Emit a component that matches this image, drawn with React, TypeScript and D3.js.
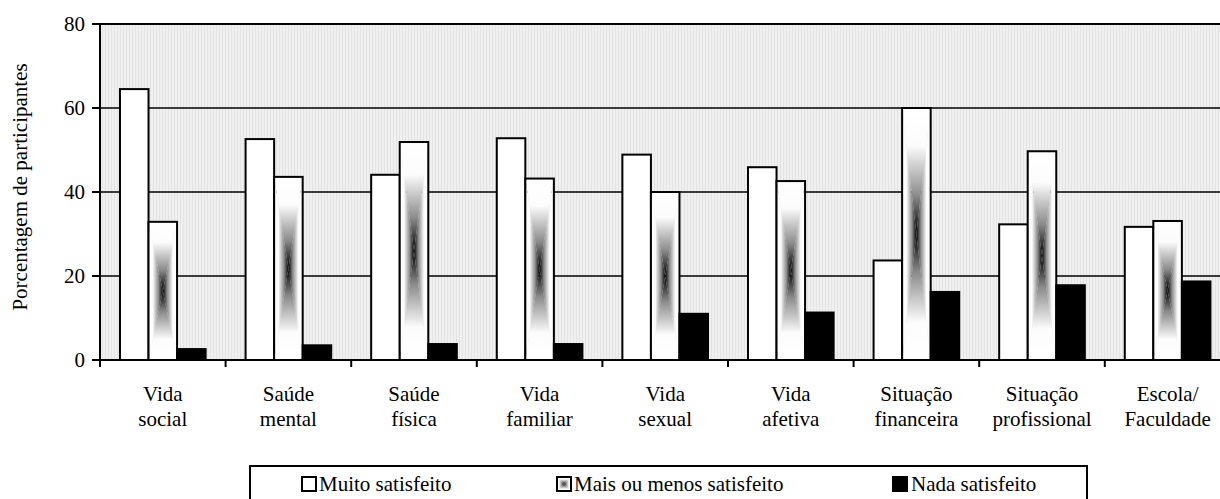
import React from "react";
import * as d3 from "d3";

const categories = [
  ["Vida", "social"],
  ["Saúde", "mental"],
  ["Saúde", "física"],
  ["Vida", "familiar"],
  ["Vida", "sexual"],
  ["Vida", "afetiva"],
  ["Situação", "financeira"],
  ["Situação", "profissional"],
  ["Escola/", "Faculdade"],
];
const seriesNames = ["Muito satisfeito", "Mais ou menos satisfeito", "Nada satisfeito"];
const muito = [64.5, 52.6, 44.1, 52.8, 48.9, 45.9, 23.7, 32.3, 31.7];
const mais = [32.9, 43.6, 51.9, 43.2, 40.0, 42.6, 60.0, 49.7, 33.1];
const nada = [2.6, 3.5, 3.8, 3.8, 11.0, 11.3, 16.2, 17.8, 18.7];
const yTicks = [0, 20, 40, 60, 80];
const yTitle = "Porcentagem de participantes";

const W = 1220, H = 499;
const left = 100, top = 24, bottom = 360;
const catStep = 125.6;
const FONT = "'Liberation Serif', 'DejaVu Serif', 'Noto Serif', serif";

export default function App() {
  const keys = categories.map((c) => c.join(" "));
  const x0 = d3.scaleBand<string>().domain(keys).range([left, left + catStep * keys.length]).paddingInner(0).paddingOuter(0);
  const x1 = d3.scaleBand<string>().domain(seriesNames).range([0, x0.bandwidth()]).paddingInner(0).paddingOuter(0.7);
  const y = d3.scaleLinear().domain([0, 80]).range([bottom, top]);
  const values = [muito, mais, nada];
  const bw = x1.bandwidth();

  const gradBar = (x: number, yTop: number, w: number, h: number, k: string) => {
    const cx = x + w / 2, cy = yTop + h / 2;
    const pts = (arr: number[][]) => arr.map((p) => p.join(",")).join(" ");
    return (
      <g key={k}>
        <polygon points={pts([[x, yTop], [x + w, yTop], [cx, cy]])} fill="url(#gT)" />
        <polygon points={pts([[x, yTop + h], [x + w, yTop + h], [cx, cy]])} fill="url(#gB)" />
        <polygon points={pts([[x, yTop], [x, yTop + h], [cx, cy]])} fill="url(#gL)" />
        <polygon points={pts([[x + w, yTop], [x + w, yTop + h], [cx, cy]])} fill="url(#gR)" />
        <rect x={x} y={yTop} width={w} height={h} fill="none" stroke="#000" strokeWidth={2} />
      </g>
    );
  };

  const stops = (rev: boolean) => {
    const s = [
      { o: 0, c: "#ffffff" },
      { o: 0.3, c: "#fcfcfc" },
      { o: 0.7, c: "#8a8a8a" },
      { o: 1, c: "#000000" },
    ];
    const arr = rev ? s.map((d) => ({ o: 1 - d.o, c: d.c })).reverse() : s;
    return arr.map((d, i) => <stop key={i} offset={d.o} stopColor={d.c} />);
  };

  const legendItems = [
    { x: 302, tx: 319 },
    { x: 557, tx: 574 },
    { x: 893, tx: 911 },
  ];

  const txt = { fontFamily: FONT, fontSize: 21 } as React.CSSProperties;

  return (
    <svg width={W} height={H} style={{ position: "absolute", left: 0, top: 0 }}>
      <defs>
        <pattern id="bgp" width="3" height="10" patternUnits="userSpaceOnUse">
          <rect width="3" height="10" fill="#f0f0f0" />
          <rect width="1" height="10" fill="#e3e3e3" />
        </pattern>
        <linearGradient id="gT" x1="0" y1="0" x2="0" y2="1">{stops(false)}</linearGradient>
        <linearGradient id="gB" x1="0" y1="0" x2="0" y2="1">{stops(true)}</linearGradient>
        <linearGradient id="gL" x1="0" y1="0" x2="1" y2="0">{stops(false)}</linearGradient>
        <linearGradient id="gR" x1="0" y1="0" x2="1" y2="0">{stops(true)}</linearGradient>
      </defs>
      <rect width={W} height={H} fill="#fff" />
      <rect x={left} y={top} width={W - left} height={bottom - top} fill="url(#bgp)" />
      {yTicks.filter((t) => t > 0).map((t) => (
        <line key={t} x1={left} x2={W} y1={y(t)} y2={y(t)} stroke="#000" strokeWidth={t === 80 ? 2 : 1.6} />
      ))}
      {keys.map((k, ci) =>
        values.map((vals, si) => {
          const xx = (x0(k) as number) + (x1(seriesNames[si]) as number);
          const yy = y(vals[ci]);
          const h = y(0) - yy;
          if (si === 1) return gradBar(xx, yy, bw, h, `${ci}-${si}`);
          return (
            <rect key={`${ci}-${si}`} x={xx} y={yy} width={bw} height={h}
              fill={si === 0 ? "#fff" : "#000"} stroke="#000" strokeWidth={2} />
          );
        })
      )}
      <line x1={left} x2={left} y1={top - 1} y2={bottom} stroke="#000" strokeWidth={2} />
      <line x1={left} x2={W} y1={bottom} y2={bottom} stroke="#000" strokeWidth={2} />
      {yTicks.map((t) => (
        <g key={t}>
          <line x1={left - 8} x2={left} y1={y(t)} y2={y(t)} stroke="#000" strokeWidth={2} />
          <text x={85} y={y(t)} dy="0.33em" textAnchor="end" style={txt}>{t}</text>
        </g>
      ))}
      {keys.map((k) => (
        <line key={k} x1={x0(k)} x2={x0(k)} y1={bottom} y2={bottom + 7} stroke="#000" strokeWidth={2} />
      ))}
      {categories.map((c, i) => {
        const cx = (x0(keys[i]) as number) + x0.bandwidth() / 2;
        return (
          <text key={i} x={cx} textAnchor="middle" style={txt}>
            <tspan x={cx} y={401}>{c[0]}</tspan>
            <tspan x={cx} y={426}>{c[1]}</tspan>
          </text>
        );
      })}
      <text transform={`translate(27,187) rotate(-90)`} textAnchor="middle" style={txt}>{yTitle}</text>
      <rect x={250} y={466} width={837} height={40} fill="#fff" stroke="#000" strokeWidth={2} />
      {legendItems.map((li, i) => (
        <g key={i}>
          {i === 1 ? (
            <g>
              {gradBar(li.x, 477, 14, 14, "lg")}
            </g>
          ) : (
            <rect x={li.x} y={477} width={14} height={14} fill={i === 0 ? "#fff" : "#000"} stroke="#000" strokeWidth={2} />
          )}
          <text x={li.tx} y={491} style={txt}>{seriesNames[i]}</text>
        </g>
      ))}
    </svg>
  );
}
